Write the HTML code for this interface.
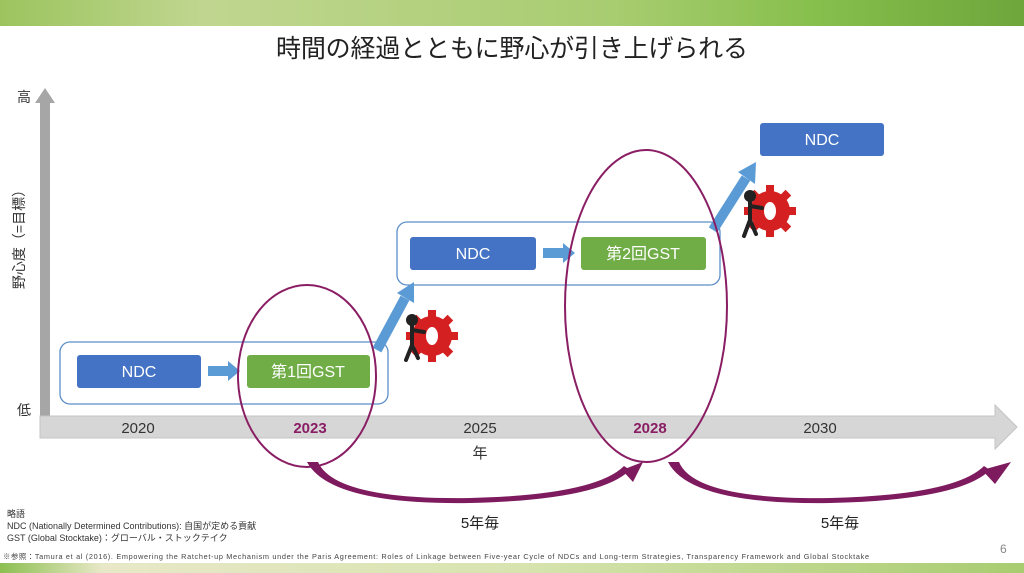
<!DOCTYPE html>
<html><head><meta charset="utf-8"><style>
html,body{margin:0;padding:0;background:#fff;}
svg{display:block;font-family:"Liberation Sans","Noto Sans CJK JP",sans-serif;}
</style></head><body>
<svg width="1024" height="573" viewBox="0 0 1024 573" xmlns="http://www.w3.org/2000/svg">
<defs>
<linearGradient id="tg" x1="0" x2="1"><stop offset="0" stop-color="#9cc45e"/><stop offset="0.2" stop-color="#c0d690"/><stop offset="0.6" stop-color="#a8cc70"/><stop offset="0.8" stop-color="#86bf4c"/><stop offset="1" stop-color="#6ea63c"/></linearGradient>
<linearGradient id="bg" x1="0" x2="1"><stop offset="0" stop-color="#8cbf50"/><stop offset="0.1" stop-color="#e8e8c8"/><stop offset="0.5" stop-color="#d8e4b0"/><stop offset="1" stop-color="#a8cc70"/></linearGradient>
</defs>
<rect x="0" y="0" width="1024" height="26" fill="url(#tg)"/>
<rect x="0" y="563" width="1024" height="10" fill="url(#bg)"/>
<text x="512" y="57" font-size="25" text-anchor="middle" fill="#222" textLength="472">時間の経過とともに野心が引き上げられる</text>
<rect x="40" y="100" width="10" height="318" fill="#a6a6a6"/>
<polygon points="35,103 45,88 55,103" fill="#a6a6a6"/>
<text x="17" y="102" font-size="14" fill="#333">高</text>
<text x="17" y="415" font-size="14" fill="#333">低</text>
<text transform="translate(24,236) rotate(-90)" font-size="14" text-anchor="middle" fill="#333">野心度（=目標）</text>
<polygon points="40,416 995,416 995,405 1017,427 995,449 995,438 40,438" fill="#d6d6d6" stroke="#c4c4c4"/>
<g font-size="15" text-anchor="middle" fill="#333">
<text x="138" y="433">2020</text>
<text x="310" y="433" font-weight="bold" fill="#8a1e64">2023</text>
<text x="480" y="433">2025</text>
<text x="650" y="433" font-weight="bold" fill="#8a1e64">2028</text>
<text x="820" y="433">2030</text>
<text x="480" y="458">年</text>
</g>
<rect x="60" y="342" width="328" height="62" rx="10" fill="none" stroke="#5b8ec8" stroke-width="1.3"/>
<rect x="77" y="355" width="124" height="33" rx="3" fill="#4472c4"/>
<text x="139" y="377" font-size="16" fill="#fff" text-anchor="middle">NDC</text>
<polygon points="208,366 228,366 228,361 240,371 228,381 228,376 208,376" fill="#5b9bd5"/>
<rect x="247" y="355" width="123" height="33" rx="3" fill="#70ad47"/>
<text x="308" y="377" font-size="16" fill="#fff" text-anchor="middle">第1回GST</text>
<rect x="397" y="222" width="323" height="63" rx="10" fill="none" stroke="#5b8ec8" stroke-width="1.3"/>
<rect x="410" y="237" width="126" height="33" rx="3" fill="#4472c4"/>
<text x="473" y="259" font-size="16" fill="#fff" text-anchor="middle">NDC</text>
<polygon points="543,248 563,248 563,243 575,253 563,263 563,258 543,258" fill="#5b9bd5"/>
<rect x="581" y="237" width="125" height="33" rx="3" fill="#70ad47"/>
<text x="643" y="259" font-size="16" fill="#fff" text-anchor="middle">第2回GST</text>
<rect x="760" y="123" width="124" height="33" rx="3" fill="#4472c4"/>
<text x="822" y="145" font-size="16" fill="#fff" text-anchor="middle">NDC</text>
<line x1="377" y1="350" x2="405" y2="298" stroke="#5b9bd5" stroke-width="10"/>
<polygon points="397,293 414,282 414,303" fill="#5b9bd5"/>
<line x1="713" y1="230" x2="746" y2="178" stroke="#5b9bd5" stroke-width="10"/>
<polygon points="738,172 756,162 755,184" fill="#5b9bd5"/>
<g transform="translate(432,336)">
<circle r="20" fill="#d42020"/><g fill="#d42020"><rect x="-4" y="-26" width="8" height="52"/><rect x="-26" y="-4" width="52" height="8"/><rect x="-4" y="-26" width="8" height="52" transform="rotate(45)"/><rect x="-4" y="-26" width="8" height="52" transform="rotate(-45)"/></g><ellipse rx="6" ry="9" fill="#fff"/>
</g>
<g stroke="#222" stroke-width="4" stroke-linecap="round" fill="none"><circle cx="412" cy="320" r="4" fill="#222"/><line x1="412" y1="326" x2="412" y2="345"/><line x1="412" y1="330" x2="424" y2="332"/><line x1="412" y1="345" x2="406" y2="360"/><line x1="412" y1="345" x2="418" y2="358"/></g>
<g transform="translate(770,211)">
<circle r="20" fill="#d42020"/><g fill="#d42020"><rect x="-4" y="-26" width="8" height="52"/><rect x="-26" y="-4" width="52" height="8"/><rect x="-4" y="-26" width="8" height="52" transform="rotate(45)"/><rect x="-4" y="-26" width="8" height="52" transform="rotate(-45)"/></g><ellipse rx="6" ry="9" fill="#fff"/>
</g>
<g stroke="#222" stroke-width="4" stroke-linecap="round" fill="none"><circle cx="750" cy="196" r="4" fill="#222"/><line x1="750" y1="202" x2="750" y2="220"/><line x1="750" y1="206" x2="762" y2="208"/><line x1="750" y1="220" x2="744" y2="236"/><line x1="750" y1="220" x2="756" y2="234"/></g>
<ellipse cx="307" cy="376" rx="69" ry="91" fill="none" stroke="#8a1e64" stroke-width="2"/>
<ellipse cx="646" cy="306" rx="81" ry="156" fill="none" stroke="#8a1e64" stroke-width="2"/>
<path d="M307,462 Q330,505 470,503 Q600,500 630,470 L624,466 Q595,495 470,498 Q335,500 318,462 Z" fill="#7e1a5e"/>
<polygon points="622,470 643,462 633,482" fill="#7e1a5e"/>
<path d="M668,462 Q690,505 830,503 Q960,500 990,470 L984,466 Q955,495 830,498 Q695,500 679,462 Z" fill="#7e1a5e"/>
<polygon points="982,470 1011,462 995,484" fill="#7e1a5e"/>
<text x="480" y="528" font-size="15" text-anchor="middle" fill="#222">5年毎</text>
<text x="840" y="528" font-size="15" text-anchor="middle" fill="#222">5年毎</text>
<g font-size="9" fill="#333">
<text x="7" y="517">略語</text>
<text x="7" y="529">NDC (Nationally Determined Contributions): 自国が定める貢献</text>
<text x="7" y="541">GST (Global Stocktake)：グローバル・ストックテイク</text>
</g>
<text x="3" y="559" font-size="7.3" fill="#444" textLength="866">※参照：Tamura et al (2016). Empowering the Ratchet-up Mechanism under the Paris Agreement: Roles of Linkage between Five-year Cycle of NDCs and Long-term Strategies, Transparency Framework and Global Stocktake</text>
<text x="1000" y="553" font-size="12" fill="#888">6</text>
</svg>
</body></html>
